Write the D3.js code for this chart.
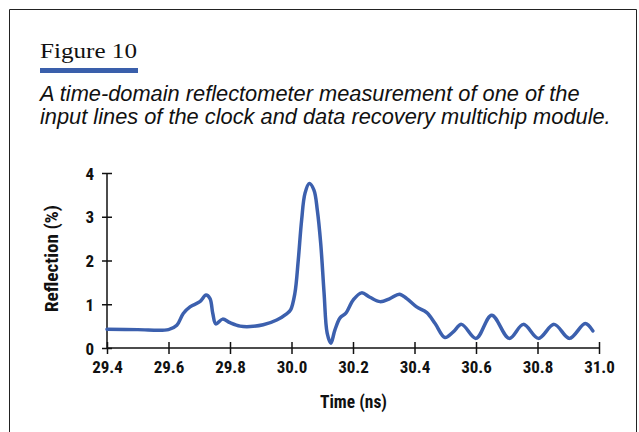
<!DOCTYPE html>
<html>
<head>
<meta charset="utf-8">
<script src="https://cdn.jsdelivr.net/npm/d3@7"></script>
<style>
  body { margin: 0; background: #fff; }
  .tick text { font-family: "Liberation Sans Narrow", "Roboto Condensed", "Arial Narrow", sans-serif; font-weight: bold; font-size: 17px; fill: #111; }
</style>
</head>
<body>
<div id="chart"></div>
<script>
var svgWidth = 639;
var svgHeight = 432;

// trace: time (ns) and reflection (%)
var timeNs = [29.40, 29.50, 29.60, 29.627, 29.648, 29.67, 29.702, 29.722, 29.735, 29.744, 29.754,
    29.776, 29.80, 29.833, 29.866, 29.908, 29.952, 29.984, 29.997, 30.011, 30.022, 30.033, 30.044,
    30.058, 30.073, 30.084, 30.095, 30.106, 30.116, 30.128, 30.141, 30.158, 30.176, 30.201, 30.228,
    30.255, 30.288, 30.320, 30.351, 30.375, 30.407, 30.440, 30.467, 30.499, 30.526, 30.553, 30.600,
    30.651, 30.708, 30.754, 30.803, 30.854, 30.904, 30.955, 30.980];
var reflection = [0.43, 0.42, 0.42, 0.52, 0.79, 0.94, 1.06, 1.21, 1.13, 0.79, 0.55,
    0.66, 0.58, 0.50, 0.49, 0.53, 0.64, 0.78, 0.87, 1.25, 2.01, 2.93, 3.54,
    3.76, 3.61, 3.15, 2.39, 1.25, 0.34, 0.11, 0.41, 0.69, 0.79, 1.10, 1.26,
    1.16, 1.06, 1.13, 1.23, 1.13, 0.94, 0.81, 0.56, 0.24, 0.37, 0.54, 0.22,
    0.75, 0.22, 0.54, 0.22, 0.54, 0.22, 0.56, 0.39];

var xTicks = [29.4, 29.6, 29.8, 30.0, 30.2, 30.4, 30.6, 30.8, 31.0];
var yTicks = [0, 1, 2, 3, 4];

var margin = { top: 173, left: 107, right: 40, bottom: 84 };
var width = 599 - margin.left;
var height = 348 - margin.top;

var svg = d3.select("#chart")
    .append("svg")
    .attr("width", svgWidth)
    .attr("height", svgHeight);

// frame round the figure
svg.append("path")
    .attr("d", "M9.5,440 V9.5 H636.5 V440")
    .attr("fill", "none")
    .attr("stroke", "#222")
    .attr("stroke-width", 1);

svg.append("text")
    .attr("x", 40)
    .attr("y", 58)
    .attr("textLength", 97)
    .attr("lengthAdjust", "spacingAndGlyphs")
    .style("font-family", "'Liberation Serif', 'DejaVu Serif', serif")
    .style("font-size", "22px")
    .attr("fill", "#111")
    .text("Figure 10");

svg.append("rect")
    .attr("x", 40)
    .attr("y", 68)
    .attr("width", 98)
    .attr("height", 5)
    .attr("fill", "#3a5fab");

var caption = ["A time-domain reflectometer measurement of one of the",
    "input lines of the clock and data recovery multichip module."];
svg.selectAll(".caption")
    .data(caption)
    .enter()
    .append("text")
    .attr("class", "caption")
    .attr("x", 40)
    .attr("y", (d, i) => 101 + i * 23)
    .style("font-family", "'Liberation Sans', Arial, sans-serif")
    .style("font-style", "italic")
    .style("font-size", "21.8px")
    .attr("fill", "#111")
    .text(d => d);

var chartGroup = svg.append("g")
    .attr("transform", `translate(${margin.left}, ${margin.top})`);

var xScale = d3.scaleLinear().domain([29.4, 31.0]).range([0, width]);
var yScale = d3.scaleLinear().domain([0, 4]).range([height, 0]);

var bottomAxis = d3.axisBottom(xScale)
    .tickValues(xTicks)
    .tickFormat(d3.format(".1f"))
    .tickSizeOuter(0)
    .tickSize(6);

var leftAxis = d3.axisLeft(yScale)
    .tickValues(yTicks)
    .tickFormat(d3.format("d"))
    .tickSizeOuter(0)
    .tickSize(5);

var xAxis = chartGroup.append("g")
    .attr("transform", `translate(0, ${height})`)
    .call(bottomAxis);
// ticks straddle the axis lines
xAxis.selectAll(".tick line").attr("y1", -6).attr("y2", 6);
xAxis.selectAll(".tick text").attr("y", 13);

var yAxis = chartGroup.append("g")
    .call(leftAxis);
yAxis.selectAll(".tick line").attr("x1", -5).attr("x2", 5);
yAxis.selectAll(".tick text").attr("x", -13).attr("dy", "0.36em");

chartGroup.selectAll(".domain").attr("stroke", "#111").attr("stroke-width", 1.5);
chartGroup.selectAll(".tick line").attr("stroke", "#111").attr("stroke-width", 1.5);
yAxis.select(".domain").attr("d", `M0,0V${height}`);
xAxis.select(".domain").attr("d", `M0,0H${width}`);

var points = timeNs.map((t, i) => [t, reflection[i]]);
var line = d3.line()
    .x(d => xScale(d[0]))
    .y(d => yScale(d[1]))
    .curve(d3.curveCatmullRom.alpha(0.5));

chartGroup.append("path")
    .datum(points)
    .attr("d", line)
    .attr("fill", "none")
    .attr("stroke", "#3c60ae")
    .attr("stroke-width", 3.5)
    .attr("stroke-linejoin", "round")
    .attr("stroke-linecap", "round");

// axis titles
svg.append("text")
    .attr("transform", "translate(58, 258.5) rotate(-90)")
    .attr("text-anchor", "middle")
    .attr("textLength", 107)
    .attr("lengthAdjust", "spacingAndGlyphs")
    .style("font-family", "'Liberation Sans Narrow', 'Roboto Condensed', sans-serif")
    .style("font-weight", "bold")
    .style("font-size", "18px")
    .attr("fill", "#111")
    .text("Reflection (%)");

svg.append("text")
    .attr("x", 353.5)
    .attr("y", 408)
    .attr("text-anchor", "middle")
    .attr("textLength", 67)
    .attr("lengthAdjust", "spacingAndGlyphs")
    .style("font-family", "'Liberation Sans Narrow', 'Roboto Condensed', sans-serif")
    .style("font-weight", "bold")
    .style("font-size", "17.5px")
    .attr("fill", "#111")
    .text("Time (ns)");
</script>
</body>
</html>
